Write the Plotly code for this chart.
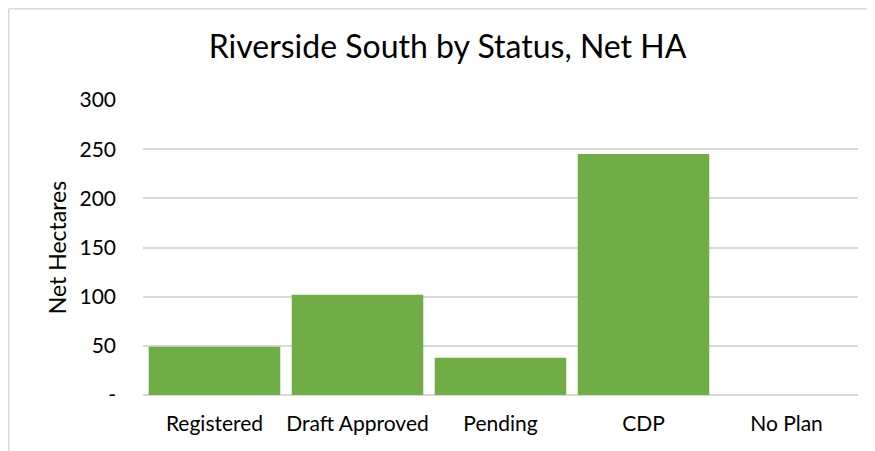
import plotly.graph_objects as go

# Riverside South land by plan status
statuses = ["Registered", "Draft Approved", "Pending", "CDP", "No Plan"]
net_hectares = [49, 102, 38, 245, 0]

y_ticks = [0, 50, 100, 150, 200, 250, 300]
y_tick_text = ["-", "50", "100", "150", "200", "250", "300"]

font_family = "Lato, Calibri, 'Open Sans', sans-serif"


def build_chart():
    # the page has an 8px body margin, so the figure is drawn 8px smaller
    fig = go.Figure(
        data=[go.Bar(
            x=statuses,
            y=net_hectares,
            marker=dict(color="#70AD47", line=dict(width=0)),
            hoverinfo="x+y",
        )],
        layout=go.Layout(
            width=867,
            height=443,
            margin=dict(l=135, r=17, t=92, b=56),
            paper_bgcolor="white",
            plot_bgcolor="white",
            showlegend=False,
            bargap=0.08,
            font=dict(family=font_family, size=21, color="#000000"),
            title=dict(
                text="Riverside South by Status, Net HA",
                x=0.507, xanchor="center",
                y=0.912, yanchor="middle",
                font=dict(size=32, color="#000000"),
            ),
            xaxis=dict(
                showgrid=False,
                showline=False,
                ticks="",
                ticklabelstandoff=14,
                tickfont=dict(size=21),
            ),
            yaxis=dict(
                range=[0, 300],
                tickvals=y_ticks,
                ticktext=y_tick_text,
                showgrid=True,
                gridcolor="#D9D9D9",
                gridwidth=1.5,
                zeroline=True,
                zerolinecolor="#D9D9D9",
                zerolinewidth=1.5,
                ticks="",
                ticklabelstandoff=26,
                tickfont=dict(size=21),
                title=dict(text="Net Hectares", font=dict(size=23), standoff=6),
            ),
        ),
    )

    # light chart-area frame along the top and left, like the source
    fig.add_shape(type="line", xref="paper", yref="paper",
                  x0=-0.1878, x1=1.03, y0=1.309, y1=1.309,
                  line=dict(color="#D9D9D9", width=1.5))
    fig.add_shape(type="line", xref="paper", yref="paper",
                  x0=-0.1878, x1=-0.1878, y0=1.309, y1=-0.2,
                  line=dict(color="#D9D9D9", width=1.5))
    return fig


fig = build_chart()
fig.write_html("out.html")
